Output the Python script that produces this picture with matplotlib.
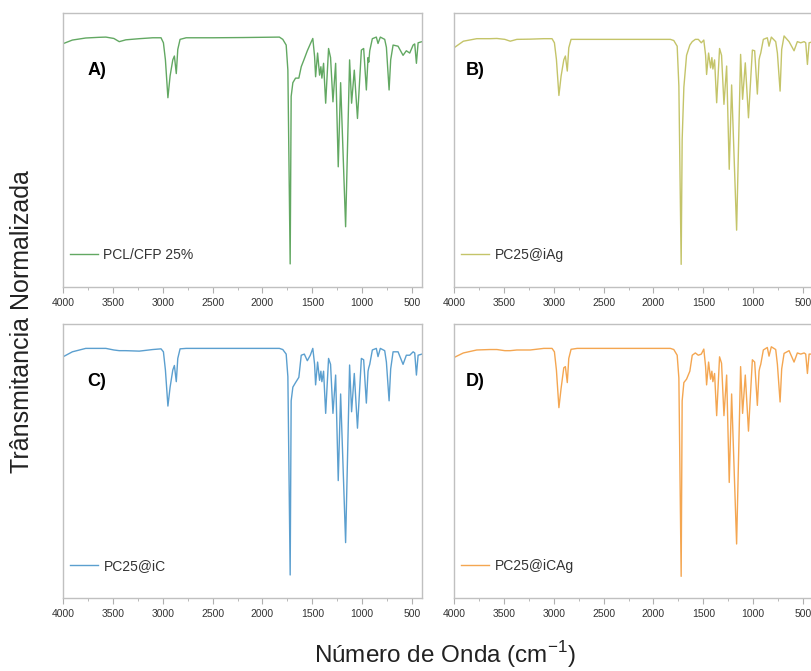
import matplotlib
matplotlib.use("Agg")
import matplotlib.pyplot as plt
from matplotlib.ticker import MultipleLocator

plt.rcParams['font.family'] = ['Liberation Sans', 'DejaVu Sans']
plt.rcParams['mathtext.fontset'] = 'custom'
plt.rcParams['mathtext.rm'] = 'Liberation Sans'

wavenumber = [4000, 3906, 3772, 3640, 3570, 3490, 3436, 3370, 3235, 3100,
              3017, 2993, 2973, 2948, 2926, 2899, 2883, 2864, 2849, 2826,
              2765, 2500, 2200, 1830, 1796, 1762, 1745, 1722, 1712, 1695,
              1668, 1635, 1611, 1580, 1550, 1520, 1495, 1477, 1467, 1447,
              1427, 1414, 1404, 1387, 1366, 1337, 1317, 1293, 1266, 1240,
              1216, 1166, 1126, 1106, 1079, 1047, 1008, 985, 958, 941,
              934, 924, 898, 858, 841, 818, 774, 757, 730, 714,
              690, 640, 590, 557, 523, 489, 473, 456, 439, 400]

T_A = [0.971, 0.987, 0.996, 0.999, 1.0, 0.994, 0.98, 0.988, 0.993, 0.997,
       0.997, 0.975, 0.90, 0.734, 0.83, 0.90, 0.917, 0.84, 0.946, 0.99,
       0.997, 0.997, 0.998, 1.0, 0.99, 0.965, 0.855, 0.005, 0.74, 0.80,
       0.82, 0.82, 0.87, 0.905, 0.94, 0.97, 0.994, 0.914, 0.826, 0.93,
       0.833, 0.87, 0.82, 0.885, 0.71, 0.95, 0.91, 0.716, 0.885, 0.431,
       0.80, 0.168, 0.90, 0.71, 0.855, 0.643, 0.943, 0.95, 0.768, 0.91,
       0.89, 0.94, 0.993, 1.0, 0.972, 1.0, 0.99, 0.955, 0.768, 0.90,
       0.965, 0.96, 0.92, 0.94, 0.93, 0.965, 0.97, 0.885, 0.975, 0.98]

T_B = [0.953, 0.982, 0.993, 0.993, 0.994, 0.99, 0.982, 0.99, 0.991, 0.993,
       0.993, 0.975, 0.902, 0.744, 0.829, 0.90, 0.917, 0.851, 0.953, 0.99,
       0.99, 0.99, 0.99, 0.99, 0.985, 0.96, 0.785, 0.003, 0.55, 0.78,
       0.92, 0.965, 0.98, 0.99, 0.99, 0.975, 0.987, 0.92, 0.836, 0.93,
       0.865, 0.91, 0.86, 0.90, 0.712, 0.95, 0.92, 0.705, 0.873, 0.42,
       0.79, 0.153, 0.924, 0.727, 0.887, 0.646, 0.943, 0.94, 0.75, 0.90,
       0.915, 0.93, 0.99, 0.997, 0.96, 1.0, 0.98, 0.93, 0.763, 0.946,
       1.005, 0.98, 0.94, 0.98, 0.975, 0.98, 0.975, 0.88, 0.975, 0.98]

T_C = [0.963, 0.985, 1.0, 1.0, 1.0, 0.993, 0.99, 0.99, 0.988, 0.995,
       0.998, 0.985, 0.905, 0.747, 0.83, 0.905, 0.925, 0.854, 0.956, 0.998,
       1.0, 1.0, 1.0, 1.0, 0.995, 0.975, 0.876, 0.006, 0.77, 0.83,
       0.85, 0.873, 0.97, 0.975, 0.946, 0.97, 1.0, 0.93, 0.84, 0.94,
       0.86, 0.90, 0.854, 0.90, 0.715, 0.956, 0.93, 0.715, 0.883, 0.42,
       0.80, 0.148, 0.927, 0.722, 0.89, 0.65, 0.956, 0.95, 0.76, 0.90,
       0.915, 0.93, 0.993, 1.0, 0.964, 1.0, 0.99, 0.94, 0.77, 0.91,
       0.985, 0.985, 0.93, 0.97, 0.97, 0.985, 0.98, 0.883, 0.97, 0.975]

T_D = [0.96, 0.98, 0.993, 0.995, 0.995, 0.99, 0.99, 0.993, 0.993, 1.0,
       1.0, 0.985, 0.905, 0.74, 0.825, 0.915, 0.92, 0.85, 0.956, 0.996,
       1.0, 1.0, 1.0, 1.0, 0.995, 0.97, 0.87, 0.0, 0.77, 0.85,
       0.865, 0.90, 0.97, 0.98, 0.97, 0.975, 0.997, 0.92, 0.84, 0.94,
       0.865, 0.90, 0.854, 0.89, 0.705, 0.963, 0.935, 0.705, 0.883, 0.412,
       0.80, 0.142, 0.92, 0.715, 0.883, 0.637, 0.95, 0.94, 0.75, 0.90,
       0.915, 0.93, 0.993, 1.004, 0.966, 1.007, 0.995, 0.93, 0.765, 0.91,
       0.978, 0.99, 0.94, 0.98, 0.975, 0.98, 0.975, 0.89, 0.975, 0.975]

series = [T_A, T_B, T_C, T_D]
labels = ["PCL/CFP 25%", "PC25@iAg", "PC25@iC", "PC25@iCAg"]
panel_tags = ["A)", "B)", "C)", "D)"]
colors = ["#62a862", "#c4c469", "#5b9fcf", "#f4a651"]

W, H = 811, 671
fig = plt.figure(figsize=(W / 100, H / 100), dpi=100)

boxes = [(63, 12.7), (454, 12.7), (63, 324), (454, 324)]
aw, ah = 359, 274

for i, (x0, y0) in enumerate(boxes):
    ax = fig.add_axes([x0 / W, 1 - (y0 + ah) / H, aw / W, ah / H])
    ax.plot(wavenumber, series[i], color=colors[i], lw=1.0, label=labels[i])
    ax.set_xlim(4000, 400)
    ax.set_ylim(-0.095, 1.107)
    ax.xaxis.set_major_locator(MultipleLocator(500))
    ax.xaxis.set_minor_locator(MultipleLocator(250))
    ax.set_yticks([])
    for s in ax.spines.values():
        s.set_color("#c0c0c0")
        s.set_linewidth(1.0)
    ax.tick_params(axis='x', which='major', direction='out', length=4,
                   color="#b0b0b0", labelsize=7.5, labelcolor="#333333", pad=4)
    ax.tick_params(axis='x', which='minor', direction='out', length=2.5,
                   color="#b0b0b0")
    ax.text(0.068 if i % 2 == 0 else 0.033, 0.79, panel_tags[i],
            transform=ax.transAxes, fontsize=13, fontweight='bold',
            va='center', ha='left', color='black')
    ax.legend(loc='lower left', bbox_to_anchor=(-0.015, 0.045), frameon=False,
              fontsize=10, handlelength=2.0, handletextpad=0.4,
              labelcolor="#333333")

fig.text(22 / W, 1 - 322 / H, "Trânsmitancia Normalizada", rotation=90,
         ha='center', va='center', fontsize=18, color="#222222")
fig.text(445 / W, 1 - 663 / H, "Número de Onda (cm$^{-1}$)",
         ha='center', va='baseline', fontsize=17.5, color="#222222")

fig.savefig("out.png", dpi=100)
